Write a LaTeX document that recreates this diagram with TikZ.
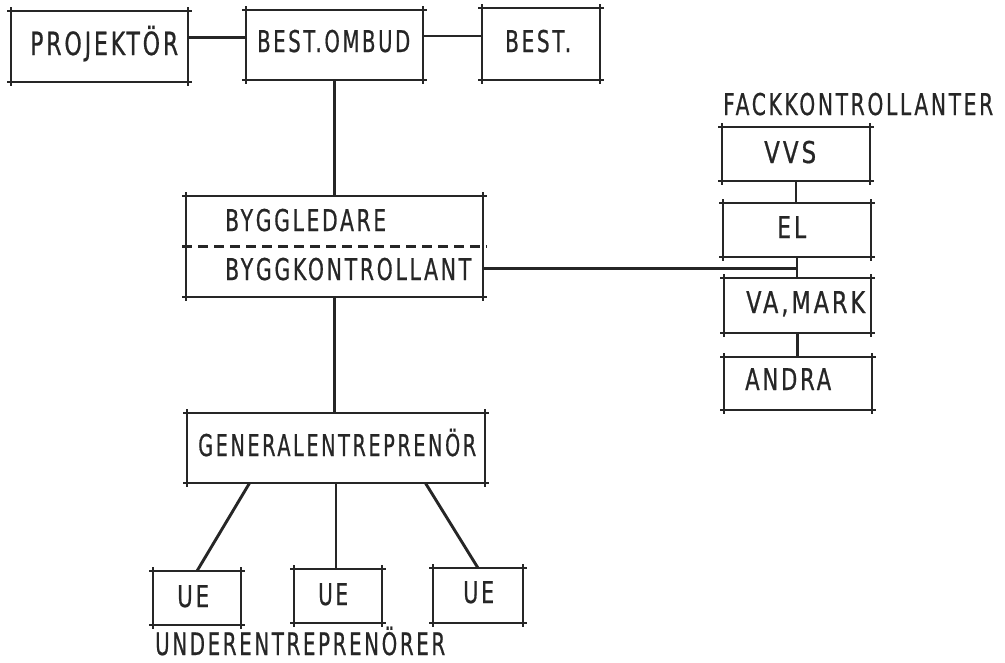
\documentclass[tikz,border=0pt]{standalone}
\usepackage{fontspec}
\usepackage{graphicx}
\setmainfont{DejaVu Sans}[FakeStretch=0.68, LetterSpace=9, FakeBold=0.6]
\usetikzlibrary{fit,calc}

\tikzset{
  ink/.style={draw=black!85, line width=2.9pt},
  frame/.style={rectangle, draw=none, inner sep=0pt, outer sep=0pt},
  lbl/.style={anchor=base west, inner sep=0pt, text=black!85, font=\fontsize{30}{33}\selectfont},
  biglbl/.style={lbl, font=\fontsize{32}{35}\selectfont},
  link/.style={ink},
}

% set a label to a given width, keeping its height
\newcommand\fitto[2]{\resizebox{#1}{\height}{#2}}

% box outline drawn as four sides that run a little past each corner
\newcommand\tickframe[1]{%
  \draw[ink] ([xshift=-4pt]#1.north west) -- ([xshift=4pt]#1.north east);
  \draw[ink] ([xshift=-4pt]#1.south west) -- ([xshift=4pt]#1.south east);
  \draw[ink] ([yshift=4pt]#1.north west) -- ([yshift=-4pt]#1.south west);
  \draw[ink] ([yshift=4pt]#1.north east) -- ([yshift=-4pt]#1.south east);
}

\begin{document}
\begin{tikzpicture}[x=1pt,y=-1pt]
\useasboundingbox (0,0) rectangle (1005,662);

% top row
\node[frame, fit={(11,11)(188,82)}] (proj) {};
\node[frame, fit={(246,10)(423,80)}] (ombud) {};
\node[frame, fit={(482,8)(600,80)}] (best) {};
% site management
\node[frame, fit={(186,196)(483,297)}] (bygg) {};
\node[frame, fit={(187,413)(485,483)}] (ge) {};
% subcontractors
\node[frame, fit={(153,571)(241,625)}] (ue1) {};
\node[frame, fit={(294,569)(382,623)}] (ue2) {};
\node[frame, fit={(433,568)(523,623)}] (ue3) {};
% specialist inspectors
\node[frame, fit={(722,127)(870,181)}] (vvs) {};
\node[frame, fit={(723,203)(871,257)}] (el) {};
\node[frame, fit={(724,278)(871,333)}] (va) {};
\node[frame, fit={(724,357)(872,410)}] (andra) {};

\foreach \b in {proj,ombud,best,bygg,ge,ue1,ue2,ue3,vvs,el,va,andra}{\tickframe{\b}}

% divider between the two roles
\draw[ink, dash pattern=on 10pt off 6pt] ([xshift=-4pt]bygg.west) -- ([xshift=4pt]bygg.east);

% labels
\node[biglbl] (tproj) at (30,55) {\fitto{148pt}{PROJEKTÖR}};
\node[lbl] (tombud) at (257,52) {\fitto{153pt}{BEST.OMBUD}};
\node[lbl] (tbest) at (505,52) {\fitto{66pt}{BEST.}};
\node[lbl] (tled) at (225,231) {\fitto{161pt}{BYGGLEDARE}};
\node[lbl] (tkon) at (225,280) {\fitto{246pt}{BYGGKONTROLLANT}};
\node[lbl] (tge) at (198,456) {\fitto{278pt}{GENERALENTREPRENÖR}};
\node[lbl] (tue1) at (177,607) {\fitto{32pt}{UE}};
\node[lbl] (tue2) at (318,605) {\fitto{30pt}{UE}};
\node[lbl] (tue3) at (463,603) {\fitto{31pt}{UE}};
\node[lbl, font=\fontsize{31}{34}\selectfont] (tunder) at (155,655) {\fitto{290pt}{UNDERENTREPRENÖRER}};
\node[lbl] (tfack) at (723,115) {\fitto{270pt}{FACKKONTROLLANTER}};
\node[lbl] (tvvs) at (764,163) {\fitto{52pt}{VVS}};
\node[lbl] (tel) at (777,238) {\fitto{29pt}{EL}};
\node[lbl] (tva) at (746,313) {\fitto{119pt}{VA,MARK}};
\node[lbl] (tandra) at (745,390) {\fitto{86pt}{ANDRA}};

% connectors
\draw[link] ([yshift=9pt]proj.east) -- ([yshift=9pt]proj.east -| ombud.west);
\draw[link] ([yshift=9pt]ombud.east) -- ([yshift=9pt]ombud.east -| best.west);
\draw[link] (ombud.south) -- (ombud.south |- bygg.north);
\draw[link] (bygg.south) -- (bygg.south |- ge.north);
\draw[link] (vvs.south) -- (vvs.south |- el.north);
\draw[link] (el.south) -- (el.south |- va.north);
\draw[link] (va.south) -- (va.south |- andra.north);
\coordinate (join) at ([yshift=-22pt]bygg.east -| el.south);
\draw[link] ([yshift=-22pt]bygg.east) -- (join);
\draw[link] ($(ge.south west)!0.21!(ge.south east)$) -- (ue1.north);
\draw[link] (ge.south) -- (ge.south |- ue2.north);
\draw[link] ($(ge.south west)!0.80!(ge.south east)$) -- (ue3.north);
\end{tikzpicture}
\end{document}
